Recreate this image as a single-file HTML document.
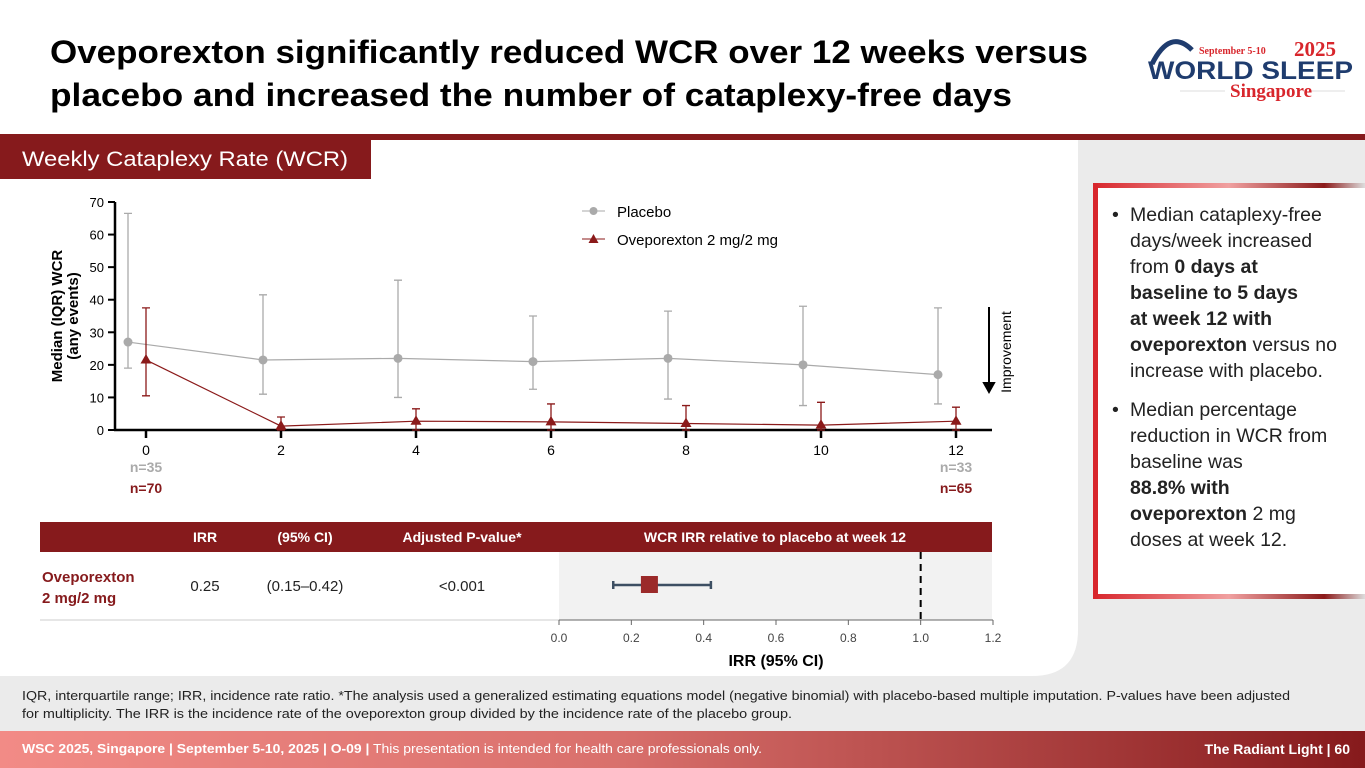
<!DOCTYPE html>
<html><head><meta charset="utf-8"><style>
html,body{margin:0;padding:0;width:1365px;height:768px;overflow:hidden;background:#fff;font-family:"Liberation Sans",sans-serif}
svg{display:block}
</style></head><body>
<svg width="1365" height="768" viewBox="0 0 1365 768" xmlns="http://www.w3.org/2000/svg" font-family="Liberation Sans, sans-serif">
<defs>
<linearGradient id="footg" x1="0" x2="1" y1="0" y2="0"><stop offset="0" stop-color="#f28b86"/><stop offset="0.45" stop-color="#d9706c"/><stop offset="1" stop-color="#861a1c"/></linearGradient>
<linearGradient id="boxg" x1="0" x2="1"><stop offset="0" stop-color="#d8262c"/><stop offset="0.5" stop-color="#f0a0a0"/><stop offset="0.85" stop-color="#8b1a1a"/><stop offset="1" stop-color="#ddd"/></linearGradient>
</defs>
<rect x="0" y="140" width="1365" height="592" fill="#ebebeb"/>
<path d="M0 140 H1078 V630 Q1078 676 1032 676 H0 Z" fill="#fff"/>
<rect x="0" y="134" width="1365" height="6" fill="#861a1c"/>
<text x="50" y="63" font-size="32" font-weight="bold" textLength="1038" lengthAdjust="spacingAndGlyphs">Oveporexton significantly reduced WCR over 12 weeks versus</text>
<text x="50" y="106" font-size="32" font-weight="bold" textLength="962" lengthAdjust="spacingAndGlyphs">placebo and increased the number of cataplexy-free days</text>
<g>
<path d="M1152 64 Q1170 28 1192 50" stroke="#1f3c6e" stroke-width="5" fill="none"/>
<text x="1199" y="54" font-size="10" font-weight="bold" fill="#d8262c" font-family="Liberation Serif, serif">September 5-10</text>
<text x="1294" y="56" font-size="21" font-weight="bold" fill="#d8262c" font-family="Liberation Serif, serif">2025</text>
<text x="1148" y="79" font-size="25" font-weight="bold" fill="#1f3c6e" textLength="205" lengthAdjust="spacingAndGlyphs">WORLD SLEEP</text>
<line x1="1180" y1="91" x2="1225" y2="91" stroke="#ddd"/>
<line x1="1310" y1="91" x2="1345" y2="91" stroke="#ddd"/>
<text x="1230" y="97" font-size="19" font-weight="bold" fill="#d8262c" font-family="Liberation Serif, serif">Singapore</text>
</g>
<rect x="0" y="134" width="371" height="45" fill="#861a1c"/>
<text x="22" y="166" font-size="21" fill="#fff" textLength="326" lengthAdjust="spacingAndGlyphs">Weekly Cataplexy Rate (WCR)</text>

<rect x="40" y="522" width="952" height="30" fill="#861a1c"/>
<g font-size="14" font-weight="bold" fill="#fff" text-anchor="middle">
<text x="205" y="542">IRR</text>
<text x="305" y="542">(95% CI)</text>
<text x="462" y="542">Adjusted P-value*</text>
<text x="775" y="542">WCR IRR relative to placebo at week 12</text>
</g>
<rect x="559" y="552" width="433" height="68" fill="#f2f2f2"/>
<line x1="40" y1="620" x2="559" y2="620" stroke="#ddd" stroke-width="1.5"/>
<text x="42" y="582" font-size="15" font-weight="bold" fill="#861a1c">Oveporexton</text>
<text x="42" y="603" font-size="15" font-weight="bold" fill="#861a1c">2 mg/2 mg</text>
<g font-size="15" fill="#222" text-anchor="middle">
<text x="205" y="591">0.25</text>
<text x="305" y="591">(0.15–0.42)</text>
<text x="462" y="591">&lt;0.001</text>
</g>

<g>
<rect x="1093" y="183" width="272" height="415" fill="#fff"/>
<rect x="1093" y="183" width="272" height="5" fill="url(#boxg)"/>
<rect x="1093" y="594" width="272" height="5" fill="url(#boxg)"/>
<rect x="1093" y="183" width="5" height="416" fill="#d8262c"/>
<g font-size="19.5" fill="#222">
<text x="1112" y="221">•</text>
<text x="1130" y="221">Median cataplexy-free</text>
<text x="1130" y="247">days/week increased</text>
<text x="1130" y="273">from <tspan font-weight="bold">0 days at</tspan></text>
<text x="1130" y="299" font-weight="bold">baseline to 5 days</text>
<text x="1130" y="325" font-weight="bold">at week 12 with</text>
<text x="1130" y="351"><tspan font-weight="bold">oveporexton</tspan> versus no</text>
<text x="1130" y="377">increase with placebo.</text>
<text x="1112" y="416">•</text>
<text x="1130" y="416">Median percentage</text>
<text x="1130" y="442">reduction in WCR from</text>
<text x="1130" y="468">baseline was</text>
<text x="1130" y="494" font-weight="bold">88.8% with</text>
<text x="1130" y="520"><tspan font-weight="bold">oveporexton</tspan> 2 mg</text>
<text x="1130" y="546">doses at week 12.</text>
</g>
</g>

<text x="22" y="700" font-size="13" fill="#222" textLength="1268" lengthAdjust="spacingAndGlyphs">IQR, interquartile range; IRR, incidence rate ratio. *The analysis used a generalized estimating equations model (negative binomial) with placebo-based multiple imputation. P-values have been adjusted</text>
<text x="22" y="718" font-size="13" fill="#222" textLength="770" lengthAdjust="spacingAndGlyphs">for multiplicity. The IRR is the incidence rate of the oveporexton group divided by the incidence rate of the placebo group.</text>

<rect x="0" y="731" width="1365" height="37" fill="url(#footg)"/>
<text x="22" y="753" font-size="12.5" fill="#fff" textLength="740" lengthAdjust="spacingAndGlyphs"><tspan font-weight="bold">WSC 2025, Singapore  |  September 5-10, 2025  |  O-09  |</tspan> This presentation is intended for health care professionals only.</text>
<text x="1350" y="754" font-size="14" font-weight="bold" fill="#fff" text-anchor="end">The Radiant Light  |  60</text>

<g id="chart"></g>
<g id="forest"></g>
</svg>
<script>
const weeks=[0,2,4,6,8,10,12];
const placeboMed=[27,21.5,22,21,22,20,17];
const placeboLo=[19,11,10,12.5,9.5,7.5,8];
const placeboHi=[66.5,41.5,46,35,36.5,38,37.5];
const oveMed=[21.5,1.2,2.7,2.5,2,1.5,2.7];
const oveLo=[10.5,0,0,0,0,0,0];
const oveHi=[37.5,4,6.5,8,7.5,8.5,7];
const yTicks=[0,10,20,30,40,50,60,70];
const irrValue=[0.25];
const irrLo=[0.15];
const irrHi=[0.42];
const forestTicks=[0,0.2,0.4,0.6,0.8,1.0,1.2];
const refLine=[1.0];

const NS='http://www.w3.org/2000/svg';
function mk(p,t,a,txt){const e=document.createElementNS(NS,t);for(const k in a)e.setAttribute(k,a[k]);if(txt!==undefined)e.textContent=txt;p.appendChild(e);return e;}
const X=w=>146+w*67.5;
const Y=v=>430-v*(228/70);
const g=document.getElementById('chart');
let ax=mk(g,'line',{x1:115,y1:202,x2:115,y2:431,stroke:'#000','stroke-width':2.5});


ax=mk(g,'line',{x1:114,y1:430,x2:992,y2:430,stroke:'#000','stroke-width':2.5});


yTicks.forEach(t=>{mk(g,'line',{x1:108,x2:115,y1:Y(t),y2:Y(t),stroke:'#000','stroke-width':2});
const l=mk(g,'text',{x:104,y:Y(t)+5,'font-size':13,'text-anchor':'end'},String(t));

});
weeks.forEach(w=>{mk(g,'line',{x1:X(w),x2:X(w),y1:430,y2:438,stroke:'#000','stroke-width':2.5});
const l=mk(g,'text',{x:X(w),y:455,'font-size':14,'text-anchor':'middle'},String(w));

});
let yt=mk(g,'text',{transform:'translate(62,316) rotate(-90)','font-size':15,'font-weight':'bold','text-anchor':'middle'},'Median (IQR) WCR');


mk(g,'text',{transform:'translate(78,316) rotate(-90)','font-size':15,'font-weight':'bold','text-anchor':'middle'},'(any events)');
[['n=35',X(0),472,'#aaa'],['n=70',X(0),493,'#861a1c'],['n=33',X(12),472,'#aaa'],['n=65',X(12),493,'#861a1c']].forEach(a=>{const t=mk(g,'text',{x:a[1],y:a[2],'font-size':14,'font-weight':'bold',fill:a[3],'text-anchor':'middle'},a[0]);

});
function series(med,lo,hi,off,col,marker,name){
 const pts=weeks.map((w,i)=>(X(w)+off)+','+Y(med[i])).join(' ');
 const pl=mk(g,'polyline',{points:pts,fill:'none',stroke:col,'stroke-width':1.2});
 
 
 weeks.forEach((w,i)=>{const x=X(w)+off;
  const eb=mk(g,'path',{d:`M${x} ${Y(lo[i])}V${Y(hi[i])}M${x-4} ${Y(lo[i])}H${x+4}M${x-4} ${Y(hi[i])}H${x+4}`,stroke:col,'stroke-width':1.3,fill:'none'});
  
  
  let m;
  if(marker==='c')m=mk(g,'circle',{cx:x,cy:Y(med[i]),r:4.5,fill:col});
  else{const y=Y(med[i]);m=mk(g,'path',{d:`M${x} ${y-6}L${x+5.5} ${y+3.5}L${x-5.5} ${y+3.5}Z`,fill:col});}
  
  
 });
}
series(placeboMed,placeboLo,placeboHi,-18,'#aaaaaa','c','placebo');
series(oveMed,oveLo,oveHi,0,'#8b1a1a','t','oveporexton');
let lg=mk(g,'g',{});


mk(lg,'line',{x1:582,x2:605,y1:211,y2:211,stroke:'#aaa'});mk(lg,'circle',{cx:593.5,cy:211,r:4,fill:'#aaa'});
mk(lg,'text',{x:617,y:217,'font-size':15},'Placebo');
mk(lg,'line',{x1:582,x2:605,y1:239,y2:239,stroke:'#8b1a1a'});mk(lg,'path',{d:'M593.5 234L598.5 243L588.5 243Z',fill:'#8b1a1a'});
mk(lg,'text',{x:617,y:245,'font-size':15},'Oveporexton 2 mg/2 mg');
let ar=mk(g,'path',{d:'M989 307V390M984 383L989 392L994 383Z',stroke:'#000','stroke-width':2,fill:'#000'});


mk(g,'text',{transform:'translate(1011,352) rotate(-90)','font-size':14,'text-anchor':'middle'},'Improvement');
const f=document.getElementById('forest');
const FX=v=>559+v*(434/1.2);
mk(f,'line',{x1:FX(0),x2:FX(1.2),y1:620,y2:620,stroke:'#666','stroke-width':1});
forestTicks.forEach(t=>{mk(f,'line',{x1:FX(t),x2:FX(t),y1:620,y2:625,stroke:'#666'});
const l=mk(f,'text',{x:FX(t),y:642,'font-size':12,fill:'#444','text-anchor':'middle'},t.toFixed(1));

});
const rl=mk(f,'line',{x1:FX(refLine[0]),x2:FX(refLine[0]),y1:552,y2:620,stroke:'#000','stroke-width':2,'stroke-dasharray':'7,5'});


const ci=mk(f,'path',{d:`M${FX(irrLo[0])} 585H${FX(irrHi[0])}M${FX(irrLo[0])} 581V589M${FX(irrHi[0])} 581V589`,stroke:'#3d4f63','stroke-width':2.5,fill:'none'});


const sq=mk(f,'rect',{x:FX(irrValue[0])-8.5,y:576,width:17,height:17,fill:'#9b2a2a'});


const ft=mk(f,'text',{x:FX(0.6),y:666,'font-size':16,'font-weight':'bold','text-anchor':'middle'},'IRR (95% CI)');


</script>
</body></html>
